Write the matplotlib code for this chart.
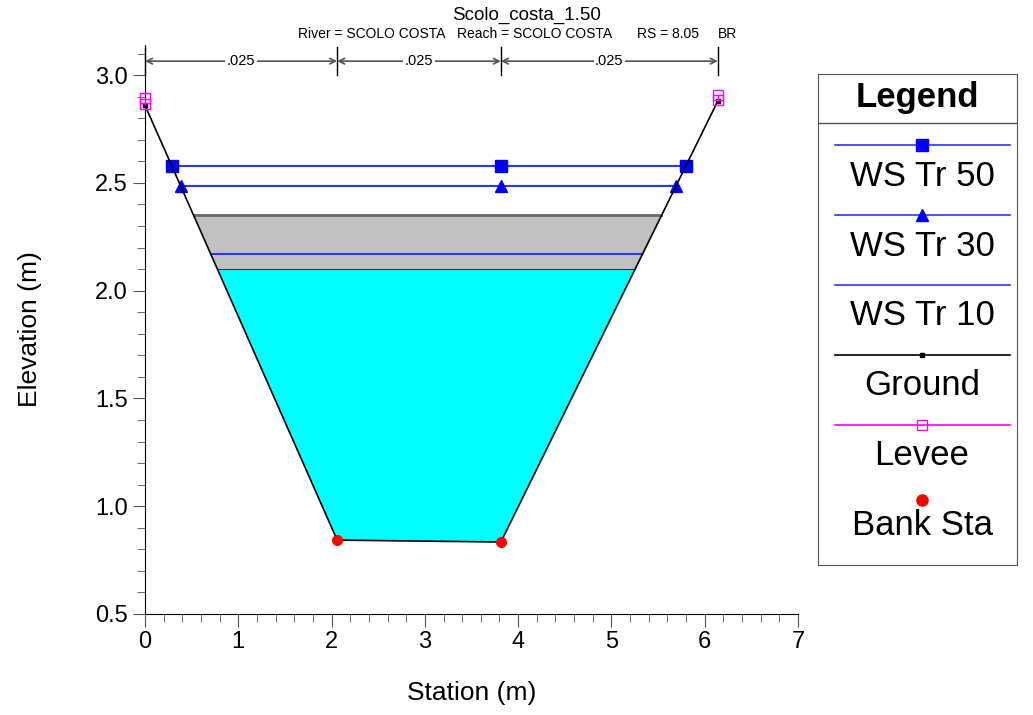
import numpy as np
import matplotlib
matplotlib.use('Agg')
import matplotlib.pyplot as plt
from matplotlib.ticker import MultipleLocator

plt.rcParams['font.family'] = ['Liberation Sans', 'DejaVu Sans']

# cross section data
ground_x = [0.0, 2.06, 3.815, 6.14]
ground_y = [2.86, 0.843, 0.834, 2.88]
levee_left = ([0.0, 0.0], [2.864, 2.892])
levee_right = ([6.14, 6.14], [2.884, 2.907])
bank_x = [2.06, 3.815]
bank_y = [0.843, 0.834]
n_breaks = [0.0, 2.06, 3.815, 6.14]
n_values = ['.025', '.025', '.025']

ws_names = ['WS Tr 50', 'WS Tr 30', 'WS Tr 10']
ws_levels = [2.578, 2.487, 2.17]
ws_markers = ['s', '^', None]

deck_high = 2.35
deck_low = 2.10

legend_labels = ['WS Tr 50', 'WS Tr 30', 'WS Tr 10', 'Ground', 'Levee', 'Bank Sta']

W, H = 1033, 715
fig = plt.figure(figsize=(W / 100, H / 100), dpi=100)
ax = fig.add_axes([145 / W, 1 - 614 / H, (798 - 145) / W, (614 - 45) / H])

xs = np.linspace(ground_x[0], ground_x[-1], 3000)
gi = np.interp(xs, ground_x, ground_y)

# water under the bridge
ax.fill_between(xs, gi, deck_low, where=gi < deck_low, color='#00ffff', lw=0, zorder=1)
# bridge deck
ax.fill_between(xs, np.maximum(gi, deck_low), deck_high, where=gi < deck_high,
                color='#c0c0c0', lw=0, zorder=1)
inside_hi = xs[gi < deck_high]
inside_lo = xs[gi < deck_low]
ax.plot([inside_hi[0], inside_hi[-1]], [deck_high, deck_high], color='#6a6a6a', lw=2, zorder=2)
ax.plot([inside_lo[0], inside_lo[-1]], [deck_low, deck_low], color='#333333', lw=0.8, zorder=2)


def edges(level):
    inside = xs[gi < level]
    return inside[0], inside[-1]


for name, lvl, mk in zip(ws_names, ws_levels, ws_markers):
    x0, x1 = edges(lvl)
    ax.plot([x0, x1], [lvl, lvl], color='#2a36ff', lw=1.5, zorder=3)
    if mk:
        ax.plot([x0, bank_x[1], x1], [lvl] * 3, ls='none', marker=mk, color='#0000ff',
                ms=8, zorder=4)

ax.plot(ground_x, ground_y, color='black', lw=1.2, zorder=5)
ax.plot([ground_x[0], ground_x[-1]], [ground_y[0], ground_y[-1]], ls='none', marker='s',
        color='black', ms=3, zorder=6, clip_on=False)
for lx, ly in (levee_left, levee_right):
    ax.plot(lx, ly, color='#ff00ff', lw=1, marker='s', mfc='none', ms=7, zorder=6,
            clip_on=False)
ax.plot(bank_x, bank_y, ls='none', marker='o', color='#ff0000', ms=7, zorder=7)

# n-value dimension lines
for b in n_breaks:
    ax.plot([b, b], [3.0, 3.13], color='black', lw=1, clip_on=False)
for i, txt in enumerate(n_values):
    a, b = n_breaks[i], n_breaks[i + 1]
    ax.annotate('', xy=(a, 3.065), xytext=(b, 3.065),
                arrowprops=dict(arrowstyle='<->', color='#555555', lw=1.2,
                                shrinkA=0, shrinkB=0))
    ax.text((a + b) / 2, 3.065, txt, ha='center', va='center', fontsize=10.5,
            bbox=dict(facecolor='white', edgecolor='none', pad=1))

ax.set_xlim(0, 7)
ax.set_ylim(0.5, 3.14)
ax.set_xticks(range(0, 8))
ax.set_yticks([0.5, 1.0, 1.5, 2.0, 2.5, 3.0])
ax.xaxis.set_minor_locator(MultipleLocator(0.2))
ax.yaxis.set_minor_locator(MultipleLocator(0.1))
ax.tick_params(which='both', direction='out', colors='#555555', labelcolor='black',
               labelsize=17)
ax.tick_params(which='major', length=9)
ax.tick_params(which='minor', length=6)
ax.spines['top'].set_visible(False)
ax.spines['right'].set_visible(False)
ax.set_xlabel('Station (m)', fontsize=19, labelpad=20)
ax.set_ylabel('Elevation (m)', fontsize=19, labelpad=38)

fig.text(527 / W, 1 - 15 / H, 'Scolo_costa_1.50', ha='center', va='center', fontsize=13.5)
for x, s in [(298, 'River = SCOLO COSTA'), (457, 'Reach = SCOLO COSTA'),
             (637, 'RS = 8.05'), (718, 'BR')]:
    fig.text(x / W, 1 - 34 / H, s, ha='left', va='center', fontsize=10)

# legend panel
lg = fig.add_axes([818 / W, 1 - 565 / H, (1017 - 818) / W, (565 - 74) / H])
lg.set_xlim(818, 1017)
lg.set_ylim(565, 74)
lg.set_xticks([])
lg.set_yticks([])
for s in lg.spines.values():
    s.set_color('#555555')
lg.text(917, 98, 'Legend', ha='center', va='center', fontsize=25, fontweight='bold')
lg.plot([818, 1017], [123, 123], color='#555555', lw=1)
styles = [dict(color='#2a36ff', marker='s', mfc='#0000ff', mec='#0000ff', ms=8),
          dict(color='#2a36ff', marker='^', mfc='#0000ff', mec='#0000ff', ms=8),
          dict(color='#2a36ff', marker=None),
          dict(color='black', marker='s', ms=3),
          dict(color='#ff00ff', marker='s', mfc='none', ms=7),
          None]
for i, (lab, st) in enumerate(zip(legend_labels, styles)):
    y = 145 + 70 * i
    if st is None:
        lg.plot([922], [y + 5], ls='none', marker='o', color='#ff0000', ms=8)
    else:
        lg.plot([835, 922, 1010], [y, y, y], lw=1.2, markevery=[1], **st)
    lg.text(922, y + 31, lab, ha='center', va='center', fontsize=25)

fig.savefig('out.png', dpi=100)
